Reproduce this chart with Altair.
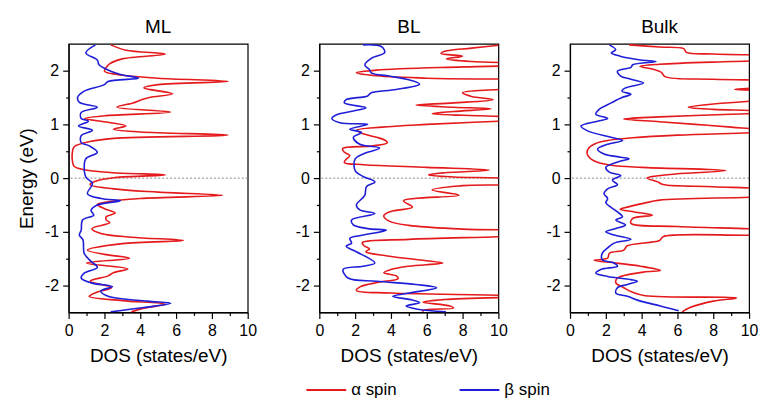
import altair as alt
import pandas as pd

PANELS = ["ML", "BL", "Bulk"]
SPINS = ["α spin", "β spin"]
RED = "#e41a1c"
BLUE = "#1f1fd8"
FONT = "Liberation Sans"

# ---------------- ML ----------------
ml_a_e = [2.48, 2.38, 2.31, 2.22, 2.13, 2.06, 1.99, 1.93, 1.86, 1.80, 1.74, 1.68, 1.57, 1.50, 1.45,
          1.40, 1.32, 1.23, 1.16, 1.11, 1.04, 0.97, 0.91, 0.86, 0.80, 0.74, 0.68, 0.58, 0.45, 0.30,
          0.22, 0.16, 0.10, 0.06, 0.01, -0.06, -0.12, -0.20, -0.26, -0.32, -0.38, -0.44, -0.49,
          -0.57, -0.65, -0.72, -0.78, -0.83, -0.94, -1.03, -1.10, -1.16, -1.22, -1.34, -1.42,
          -1.49, -1.58, -1.69, -1.76, -1.82, -1.92, -2.04, -2.12, -2.20, -2.28, -2.35, -2.42, -2.49]
ml_a_d = [2.35, 3.2, 5.4, 3.0, 2.3, 2.1, 2.0, 2.7, 5.0, 8.9, 5.0, 4.2, 5.8, 4.5, 4.0,
          3.6, 2.7, 5.7, 2.0, 0.9, 2.2, 3.2, 2.5, 4.0, 8.9, 2.5, 1.2, 0.3, 0.2, 0.22,
          0.3, 0.8, 2.5, 5.4, 2.6, 1.5, 1.2, 2.5, 5.0, 8.6, 4.0, 2.2, 1.6,
          2.0, 2.6, 2.1, 2.1, 2.3, 1.3, 1.8, 3.5, 6.4, 3.0, 1.05, 2.0,
          3.4, 1.0, 3.3, 2.5, 2.2, 1.2, 2.4, 1.6, 1.15, 3.0, 5.4, 4.2, 3.5]
ml_b_e = [2.48, 2.33, 2.20, 2.11, 1.99, 1.93, 1.86, 1.80, 1.74, 1.62, 1.50, 1.41, 1.32, 1.22, 1.11,
          1.06, 0.97, 0.89, 0.79, 0.66, 0.60, 0.48, 0.36, 0.20, 0.02, -0.10, -0.29, -0.38, -0.42,
          -0.50, -0.60, -0.69, -0.78, -0.97, -1.06, -1.15, -1.40, -1.55, -1.66, -1.77, -1.86,
          -1.95, -2.02, -2.10, -2.20, -2.29, -2.33, -2.41, -2.49]
ml_b_d = [1.5, 0.96, 1.6, 1.7, 2.35, 2.9, 3.9, 2.2, 2.0, 0.87, 0.5, 0.6, 1.6, 0.7, 0.7,
          1.1, 0.55, 1.33, 0.7, 0.7, 1.15, 1.6, 0.96, 0.87, 0.96, 1.33, 1.05, 1.8, 2.9,
          1.6, 1.25, 1.4, 0.78, 0.7, 0.6, 0.8, 0.87, 1.25, 1.6, 0.87, 0.7,
          1.25, 2.45, 1.8, 2.2, 4.4, 5.7, 4.2, 2.35]

# ---------------- BL ----------------
bl_a_e = [2.49, 2.42, 2.36, 2.32, 2.27, 2.22, 2.17, 2.12, 2.07, 2.01, 1.96, 1.91, 1.86, 1.80,
          1.72, 1.65, 1.59, 1.52, 1.46, 1.40, 1.36, 1.32, 1.29, 1.24, 1.20, 1.16, 1.11, 1.06,
          1.00, 0.95, 0.89, 0.82, 0.76, 0.70, 0.66, 0.60, 0.55, 0.48, 0.42, 0.35, 0.29, 0.25,
          0.20, 0.15, 0.10, 0.06, 0.02, -0.04, -0.09, -0.14, -0.22, -0.32, -0.42, -0.54, -0.62,
          -0.70, -0.80, -0.88, -0.95, -1.01, -1.05, -1.09, -1.14, -1.20, -1.26, -1.32, -1.37,
          -1.45, -1.53, -1.58, -1.64, -1.70, -1.76, -1.82, -1.87, -1.94, -2.02, -2.09, -2.14,
          -2.20, -2.26, -2.31, -2.38, -2.42, -2.46, -2.49]
bl_a_d = [10.5, 8.5, 7.0, 6.8, 8.0, 7.1, 8.5, 14.0, 8.0, 3.2, 2.07, 3.0, 6.0, 14.0,
          13.0, 10.0, 8.0, 8.5, 9.7, 7.5, 5.4, 7.5, 9.6, 7.5, 6.3, 9.0, 14.0, 10.0,
          6.0, 3.5, 2.07, 2.5, 3.2, 3.7, 3.8, 3.0, 1.3, 1.4, 1.7, 1.5, 1.4, 2.5,
          6.0, 9.5, 7.0, 6.1, 7.5, 11.0, 11.0, 8.0, 6.3, 7.8, 4.7, 5.2, 4.0,
          3.6, 3.9, 5.0, 8.0, 13.0, 13.0, 10.0, 5.0, 2.4, 2.5, 2.8, 2.6,
          3.8, 5.8, 6.9, 5.0, 4.0, 3.6, 4.3, 4.4, 3.3, 2.3, 2.07, 4.0,
          12.0, 7.0, 5.8, 7.3, 7.5, 5.8, 5.8]
bl_b_e = [2.48, 2.45, 2.34, 2.23, 2.11, 2.02, 1.96, 1.90, 1.83, 1.75, 1.65, 1.59, 1.53, 1.46,
          1.40, 1.31, 1.25, 1.18, 1.11, 1.03, 1.00, 0.91, 0.85, 0.76, 0.63, 0.56, 0.45, 0.36,
          0.14, 0.03, -0.07, -0.16, -0.32, -0.50, -0.59, -0.66, -0.78, -0.87, -0.94, -0.97,
          -1.06, -1.12, -1.21, -1.27, -1.37, -1.58, -1.64, -1.70, -1.86, -1.92, -1.98, -2.04,
          -2.14, -2.20, -2.27, -2.32, -2.38, -2.44, -2.49]
bl_b_d = [2.44, 3.46, 3.65, 2.9, 2.54, 2.8, 2.9, 3.9, 5.0, 5.6, 4.3, 2.9, 2.7, 1.5,
          1.4, 2.6, 1.9, 0.96, 0.7, 1.15, 2.7, 1.7, 2.35, 1.9, 2.26, 3.37, 2.44, 2.0,
          2.0, 2.44, 3.1, 2.63, 2.54, 2.07, 2.26, 3.1, 1.8, 1.9, 2.7, 3.74,
          2.44, 1.7, 1.8, 1.5, 2.07, 3.1, 2.44, 1.33, 1.6, 3.2, 5.4, 6.55,
          5.0, 4.1, 5.2, 5.6, 4.85, 5.5, 7.07]

# ---------------- Bulk ----------------
bk_a_e = [2.48, 2.44, 2.41, 2.34, 2.31, 2.28, 2.24, 2.20, 2.17, 2.12, 2.08, 2.03, 1.97, 1.89,
          1.84, 1.81, 1.77, 1.72, 1.67, 1.65, 1.63, 1.55, 1.47, 1.43, 1.38, 1.32, 1.28, 1.25,
          1.22, 1.19, 1.14, 1.10, 1.05, 1.00, 0.95, 0.91, 0.88, 0.85, 0.80, 0.75, 0.70, 0.64,
          0.57, 0.48, 0.42, 0.35, 0.30, 0.24, 0.20, 0.14, 0.08, 0.04, 0.00, -0.07, -0.12,
          -0.16, -0.20, -0.28, -0.35, -0.41, -0.47, -0.54, -0.58, -0.63, -0.69, -0.75, -0.84,
          -0.90, -0.95, -1.00, -1.06, -1.09, -1.16, -1.26, -1.34, -1.40, -1.49, -1.53, -1.58,
          -1.64, -1.72, -1.75, -1.86, -1.95, -2.04, -2.12, -2.19, -2.23, -2.29, -2.41, -2.49]
bk_a_d = [3.3, 5.0, 6.35, 6.5, 8.0, 12.0, 14.0, 12.0, 9.0, 5.0, 3.9, 4.6, 5.1, 5.3,
          8.0, 12.0, 13.0, 12.0, 10.0, 9.2, 10.5, 14.0, 12.0, 10.0, 8.0, 6.6, 8.0, 10.5,
          11.0, 9.0, 5.0, 3.0, 5.0, 7.0, 9.0, 10.5, 12.0, 10.5, 6.0, 3.5, 2.1, 1.4,
          1.07, 0.95, 1.0, 1.2, 1.5, 2.3, 4.0, 8.7, 6.0, 4.8, 4.3, 4.9, 5.2,
          8.0, 11.0, 14.0, 10.5, 5.0, 4.1, 3.2, 2.8, 3.6, 4.6, 3.5, 3.4,
          6.0, 10.5, 13.0, 10.5, 5.2, 5.0, 3.2, 3.0, 2.2, 2.1, 1.35, 2.56,
          3.94, 5.05, 4.1, 2.65, 2.56, 3.0, 3.46, 4.2, 9.3, 8.0, 6.7, 6.26]
bk_b_e = [2.48, 2.39, 2.33, 2.27, 2.20, 2.17, 2.11, 2.06, 1.99, 1.90, 1.84, 1.77, 1.68, 1.62,
          1.56, 1.50, 1.40, 1.28, 1.19, 1.11, 1.06, 0.97, 0.88, 0.76, 0.70, 0.63, 0.54, 0.45,
          0.39, 0.36, 0.30, 0.20, 0.11, 0.05, -0.04, -0.12, -0.20, -0.29, -0.38, -0.46, -0.54,
          -0.63, -0.72, -0.78, -0.87, -0.94, -1.00, -1.06, -1.14, -1.21, -1.30, -1.40, -1.52,
          -1.58, -1.64, -1.70, -1.77, -1.83, -1.89, -1.92, -1.98, -2.04, -2.14, -2.20, -2.29,
          -2.38, -2.47]
bk_b_d = [2.2, 2.55, 2.3, 2.8, 3.94, 4.8, 3.5, 3.4, 2.65, 2.83, 3.4, 4.1, 3.1, 2.9,
          3.4, 2.9, 2.3, 1.63, 1.44, 2.1, 1.54, 0.61, 0.98, 2.28, 2.93, 2.1, 1.54, 1.9,
          2.83, 3.3, 2.65, 2.0, 2.2, 2.83, 2.37, 2.65, 2.1, 1.9, 2.1, 2.0, 2.28,
          2.65, 2.93, 2.56, 3.1, 2.56, 2.0, 2.46, 3.4, 2.46, 2.1, 1.8, 1.8,
          2.46, 2.65, 1.72, 1.44, 2.1, 3.4, 3.76, 3.2, 2.65, 2.56, 3.2, 3.94,
          5.05, 6.07]

CURVES = {
    "ML": (ml_a_e, ml_a_d, ml_b_e, ml_b_d),
    "BL": (bl_a_e, bl_a_d, bl_b_e, bl_b_d),
    "Bulk": (bk_a_e, bk_a_d, bk_b_e, bk_b_d),
}

X_TICKS = list(range(0, 11))
Y_TICKS = [-2, -1.5, -1, -0.5, 0, 0.5, 1, 1.5, 2]
ZERO = [0]


def make_frame(name):
    ea, da, eb, db = CURVES[name]
    rows = []
    for spin, es, ds in ((SPINS[0], ea, da), (SPINS[1], eb, db)):
        for i, (e, d) in enumerate(zip(es, ds)):
            rows.append({"energy": e, "dos": d, "spin": spin, "idx": i})
    return pd.DataFrame(rows)


def panel(name, first):
    df = make_frame(name)
    xaxis = alt.Axis(
        values=X_TICKS,
        labelExpr="datum.value % 2 === 0 ? '' + datum.value : ''",
        tickSize={"condition": {"test": "datum.value % 2 === 0", "value": 6}, "value": 3},
        title="DOS (states/eV)",
        labelFlush=False,
        grid=False,
    )
    yaxis = alt.Axis(
        values=Y_TICKS,
        labelExpr="datum.value % 1 === 0 ? '' + datum.value : ''",
        tickSize={"condition": {"test": "datum.value % 1 === 0", "value": 6}, "value": 3},
        title="Energy (eV)" if first else None,
        labelFlush=False,
        grid=False,
    )
    xs = alt.Scale(domain=[0, 10], nice=False, zero=False)
    ys = alt.Scale(domain=[-2.5, 2.5], nice=False, zero=False)

    zero = alt.Chart(pd.DataFrame({"energy": ZERO})).mark_rule(
        color="#888888", strokeDash=[2, 2], strokeWidth=1
    ).encode(y=alt.Y("energy:Q", scale=ys, axis=yaxis))

    lines = alt.Chart(df).mark_line(
        clip=True, interpolate="catmull-rom", strokeWidth=1.6
    ).encode(
        x=alt.X("dos:Q", scale=xs, axis=xaxis),
        y=alt.Y("energy:Q", scale=ys, axis=yaxis),
        color=alt.Color(
            "spin:N",
            scale=alt.Scale(domain=SPINS, range=[RED, BLUE]),
            legend=alt.Legend(
                orient="none", legendX=238, legendY=327, direction="horizontal",
                title=None, symbolType="stroke", symbolSize=1600, symbolStrokeWidth=2,
                labelFontSize=17, labelFont=FONT, labelOffset=4, columnPadding=59,
                labelColor="black",
            ),
        ),
        order="idx:Q",
    )
    return alt.layer(zero, lines).properties(
        width=180, height=270,
        title=alt.TitleParams(text=name, fontSize=19, font=FONT, fontWeight="normal",
                              offset=7, anchor="middle", color="black"),
    )


chart = alt.hconcat(
    panel("ML", True), panel("BL", False), panel("Bulk", False),
    spacing=72, bounds="flush",
).properties(
    padding={"left": 17, "top": 16, "right": 5, "bottom": 2},
).configure_view(
    stroke="black", strokeWidth=1.2
).configure_axis(
    domainColor="black", domainWidth=1.2, tickColor="black", tickWidth=1.2,
    labelFont=FONT, labelFontSize=16, labelColor="black", labelPadding=4,
    titleFont=FONT, titleFontSize=19, titleFontWeight="normal", titleColor="black",
    titlePadding=8,
)

chart.save("out.html", embed_options={"renderer": "svg", "actions": False})
